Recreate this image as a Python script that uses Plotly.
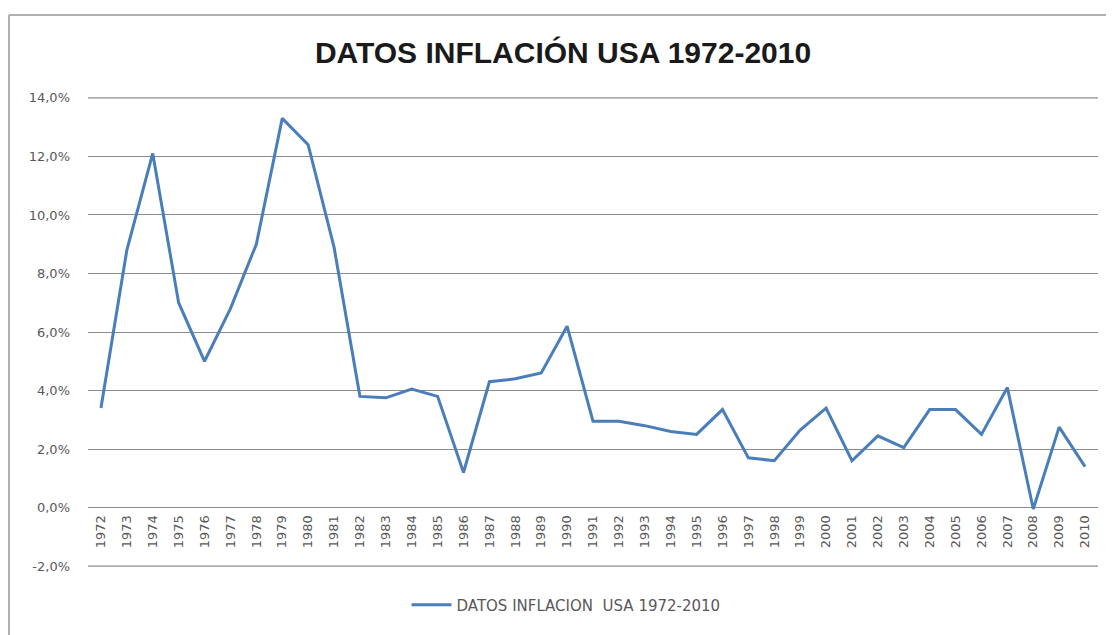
import plotly.graph_objects as go

years = [str(y) for y in range(1972, 2011)]
inflation = [3.4, 8.8, 12.1, 7.0, 5.0, 6.8, 9.0, 13.3, 12.4, 8.9,
             3.8, 3.75, 4.05, 3.8, 1.2, 4.3, 4.4, 4.6, 6.2, 2.95,
             2.95, 2.8, 2.6, 2.5, 3.35, 1.7, 1.6, 2.65, 3.4, 1.6,
             2.45, 2.05, 3.35, 3.35, 2.5, 4.1, -0.05, 2.75, 1.4]
y_ticks = [-2, 0, 2, 4, 6, 8, 10, 12, 14]
y_tick_labels = ["-2,0%", "0,0%", "2,0%", "4,0%", "6,0%", "8,0%", "10,0%", "12,0%", "14,0%"]
series_name = "DATOS INFLACION  USA 1972-2010"
title_text = "DATOS INFLACIÓN USA 1972-2010"

# page body has an 8px margin; target coordinates below are in window pixels
OFF = 8
W, H = 1114 - OFF, 635 - OFF
PL, PR, PT, PB = 88, 1098, 97, 567  # plot box in window coords
L, R, T, B = PL - OFF, 1114 - PR, PT - OFF, 635 - PB
PW, PH = PR - PL, PB - PT
Y0, Y1 = -2.03, 14.03
GRID = "#8c8c8c"

def py(win_y):
    return (PB - win_y) / PH

def px(win_x):
    return (win_x - PL) / PW

fig = go.Figure()
fig.add_trace(go.Scatter(
    x=years, y=inflation, mode="lines", name=series_name,
    line=dict(color="#4a7ebb", width=3),
))

tick_font = dict(family="DejaVu Sans, Verdana, sans-serif", size=13, color="#595959")

edge_grid = [
    dict(type="line", xref="paper", yref="y", x0=0, x1=1, y0=v, y1=v,
         line=dict(color=GRID, width=1.2), layer="below")
    for v in (y_ticks[0], y_ticks[-1])
]

fig.update_layout(
    width=W, height=H,
    margin=dict(l=L, r=R, t=T, b=B, autoexpand=False),
    paper_bgcolor="white", plot_bgcolor="white",
    title=dict(text=f"<b>{title_text}</b>", x=(563 - OFF) / W, xanchor="center",
               y=1 - (52 - OFF) / H, yanchor="middle",
               font=dict(family="Liberation Sans Narrow, Arial Narrow, sans-serif", size=30, color="#1a1a1a")),
    showlegend=True,
    legend=dict(orientation="h", x=px(566), xanchor="center", y=py(605), yanchor="middle",
                font=dict(family="DejaVu Sans, Verdana, sans-serif", size=15, color="#595959"),
                itemwidth=40),
    xaxis=dict(type="category", tickangle=-90, showgrid=False, automargin=False,
               range=[-0.5, len(years) - 0.5], anchor="free", position=(0 - Y0) / (Y1 - Y0),
               tickfont=tick_font, showline=False, ticks="", ticklabelstandoff=4),
    yaxis=dict(range=[Y0, Y1], tickvals=y_ticks, ticktext=y_tick_labels, automargin=False,
               showgrid=True, gridcolor=GRID, gridwidth=1.2, zeroline=False,
               tickfont=tick_font, ticks="", ticklabelstandoff=17),
    shapes=edge_grid + [
        dict(type="line", xref="paper", yref="paper", x0=px(9), x1=px(1200),
             y0=py(15), y1=py(15), line=dict(color="#b0b0b0", width=2)),
        dict(type="line", xref="paper", yref="paper", x0=px(9), x1=px(9),
             y0=py(15), y1=py(700), line=dict(color="#b0b0b0", width=2)),
    ],
)

fig.write_html("out.html")
